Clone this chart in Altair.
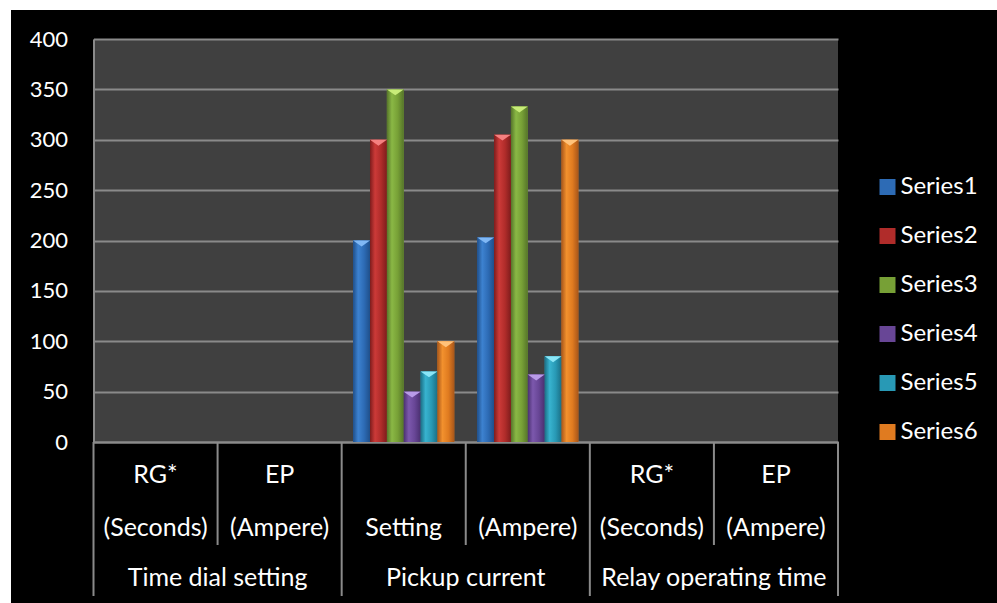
import altair as alt
import pandas as pd

# ---------------- data ----------------
categories = ["c1", "c2", "c3", "c4", "c5", "c6"]
top_labels = ["RG*", "EP", "", "", "RG*", "EP"]
mid_labels = ["(Seconds)", "(Ampere)", "Setting", "(Ampere)", "(Seconds)", "(Ampere)"]
groups = ["Time dial setting", "Pickup current", "Relay operating time"]
group_first_cat = ["c1", "c3", "c5"]

series_names = ["Series1", "Series2", "Series3", "Series4", "Series5", "Series6"]
series1 = [0, 0, 200, 203, 0, 0]
series2 = [0, 0, 300, 305, 0, 0]
series3 = [0, 0, 350, 333, 0, 0]
series4 = [0, 0, 50, 67, 0, 0]
series5 = [0, 0, 70, 85, 0, 0]
series6 = [0, 0, 100, 300, 0, 0]
y_ticks = [0, 50, 100, 150, 200, 250, 300, 350, 400]

# ---------------- styles ----------------
FONT = "Lato"
GRID = "#8a8a8a"
mid_colors = ["#2d6bb5", "#b02c2a", "#77a036", "#684696", "#2899b5", "#e07b20"]
light_colors = ["#3d82d0", "#cc3a38", "#8ab845", "#7c58ad", "#38b3cf", "#f2912e"]
dark_colors = ["#1f4f8a", "#7e1c1c", "#56752a", "#4a3070", "#1b6f85", "#a8561a"]
cap_colors = ["#80b8f5", "#f58080", "#c8ec78", "#b99be8", "#8ae6f7", "#ffc27a"]

W, H = 744.5, 403

rows = []
for name, vals in zip(series_names, [series1, series2, series3, series4, series5, series6]):
    for c, v in zip(categories, vals):
        rows.append({"cat": c, "series": name, "value": v})
df = pd.DataFrame(rows)

cat_df = pd.DataFrame({"cat": categories, "top": top_labels, "mid": mid_labels})
grp_df = pd.DataFrame({"cat": group_first_cat, "group": groups})

x_enc = alt.X("cat:N", sort=categories,
              scale=alt.Scale(domain=categories, paddingInner=0.185, paddingOuter=0.0925),
              axis=alt.Axis(labels=False, ticks=False, title=None, grid=False,
                            domainColor=GRID, domainWidth=2))
xo_enc = alt.XOffset("series:N", scale=alt.Scale(domain=series_names, paddingInner=0, paddingOuter=0))
y_enc = alt.Y("value:Q", scale=alt.Scale(domain=[0, 400], nice=False),
              axis=alt.Axis(values=y_ticks, title=None, ticks=False, labelPadding=26,
                            labelColor="white", labelFont=FONT, labelFontSize=22,
                            domainColor=GRID, domainWidth=2, grid=True,
                            gridColor=GRID, gridWidth=2))

base = alt.Chart(df).mark_bar().encode(
    x=x_enc, xOffset=xo_enc, y=y_enc,
    color=alt.Color("series:N", scale=alt.Scale(domain=series_names, range=mid_colors),
                    legend=alt.Legend(orient="none", legendX=782, legendY=136, title=None,
                                      labelFontSize=24, labelFont=FONT, labelColor="white",
                                      symbolType="square", symbolSize=256, symbolStrokeWidth=0,
                                      symbolOpacity=1, rowPadding=25, labelOffset=1)),
)

grad_layers = []
for i, name in enumerate(series_names):
    g = alt.Gradient(gradient="linear", x1=0, x2=1, y1=0, y2=0,
                     stops=[alt.GradientStop(color=dark_colors[i], offset=0),
                            alt.GradientStop(color=light_colors[i], offset=0.3),
                            alt.GradientStop(color=mid_colors[i], offset=0.65),
                            alt.GradientStop(color=dark_colors[i], offset=1)])
    grad_layers.append(
        alt.Chart(df).transform_filter(alt.datum.series == name)
        .mark_bar(color=g).encode(x=x_enc, xOffset=xo_enc, y=y_enc)
    )

caps = alt.Chart(df).transform_filter(alt.datum.value > 0).mark_point(
    shape="M-1,-1L1,-1L0,-0.3Z", filled=True, size=282, yOffset=8.4, opacity=1, strokeWidth=0
).encode(
    x=x_enc, xOffset=xo_enc, y=y_enc,
    fill=alt.Fill("series:N", scale=alt.Scale(domain=series_names, range=cap_colors), legend=None),
)

bars_layer = alt.layer(base, *grad_layers, caps)

# ---------------- category table below the axis ----------------
tx = dict(scale=alt.Scale(domain=categories, paddingInner=0, paddingOuter=0), axis=None)
text_style = dict(color="white", font=FONT, fontSize=25, baseline="middle", align="center")

top_text = alt.Chart(cat_df).mark_text(**text_style).encode(
    x=alt.X("cat:N", **tx), y=alt.value(436), text="top:N")
mid_text = alt.Chart(cat_df).mark_text(**text_style).encode(
    x=alt.X("cat:N", **tx), y=alt.value(489), text="mid:N")
grp_text = alt.Chart(grp_df).mark_text(**text_style).encode(
    x=alt.X("cat:N", bandPosition=1, **tx), y=alt.value(539), text="group:N")

long_rules = alt.Chart(grp_df).mark_rule(color=GRID, strokeWidth=2).encode(
    x=alt.X("cat:N", bandPosition=0, **tx), y=alt.value(H), y2=alt.value(557))
end_rule = alt.Chart(pd.DataFrame({"cat": [categories[-1]]})).mark_rule(color=GRID, strokeWidth=2).encode(
    x=alt.X("cat:N", bandPosition=1, **tx), y=alt.value(H), y2=alt.value(557))
short_rules = alt.Chart(pd.DataFrame({"cat": ["c2", "c4", "c6"]})).mark_rule(color=GRID, strokeWidth=2).encode(
    x=alt.X("cat:N", bandPosition=0, **tx), y=alt.value(H), y2=alt.value(506))

table_layer = alt.layer(top_text, mid_text, grp_text, long_rules, end_rule, short_rules)

# white page margins (top and left) seen in the reference
margin_df = pd.DataFrame({"k": [0]})
left_strip = alt.Chart(margin_df).mark_rect(color="white").encode(
    x=alt.value(-94), x2=alt.value(-82.5), y=alt.value(-40), y2=alt.value(570))
top_strip = alt.Chart(margin_df).mark_rect(color="white").encode(
    x=alt.value(-94), x2=alt.value(910), y=alt.value(-40), y2=alt.value(-29))

chart = alt.layer(bars_layer, table_layer, left_strip, top_strip).resolve_scale(
    x="independent"
).properties(
    width=W, height=H,
    autosize=alt.AutoSizeParams(type="none"),
    padding={"left": 93.5, "top": 39, "right": 159, "bottom": 161},
    background="black",
).configure_view(fill="#404040", stroke=None)

chart.save("out.html", embed_options={"renderer": "svg", "actions": False})
